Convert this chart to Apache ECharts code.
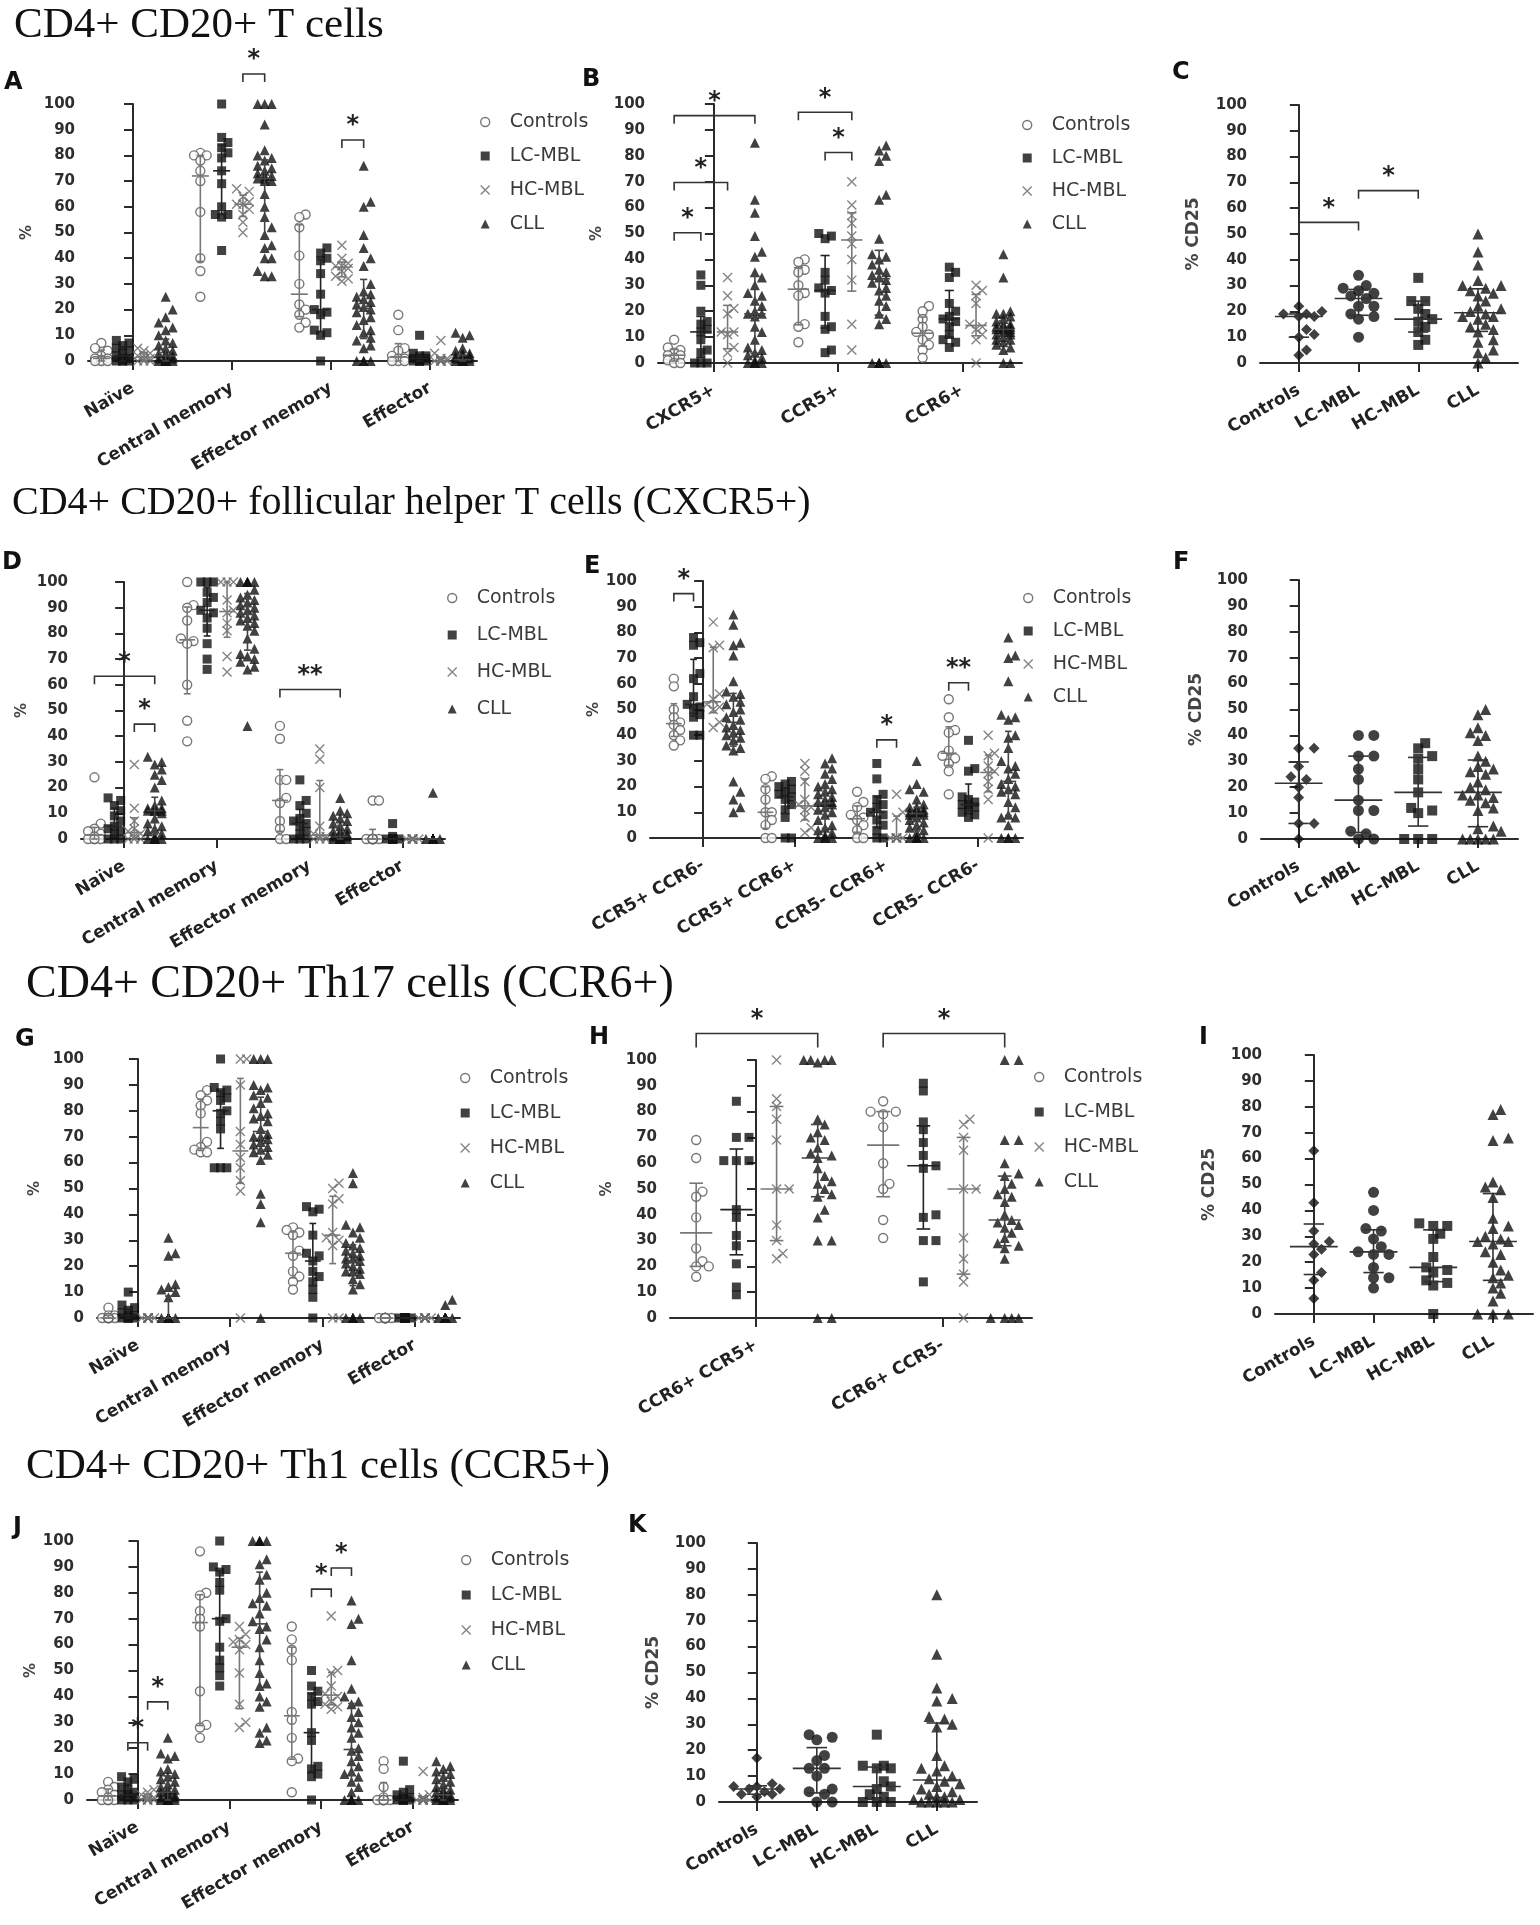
<!DOCTYPE html>
<html>
<head>
<meta charset="utf-8">
<title>CD4+ CD20+ T cells</title>
<script src="https://cdn.jsdelivr.net/npm/echarts@6/dist/echarts.min.js"></script>
<style>
html, body { margin: 0; padding: 0; background: #fff; }
#chart { width: 1540px; height: 1925px; }
</style>
</head>
<body>
<div id="chart"></div>
<script>
'use strict';

// groups and subset names
var groups = ['Controls', 'LC-MBL', 'HC-MBL', 'CLL'];
var memSubsets = ['Naïve', 'Central memory', 'Effector memory', 'Effector'];
var chemoSubsets = ['CXCR5+', 'CCR5+', 'CCR6+'];
var tfhSubsets = ['CCR5+ CCR6-', 'CCR5+ CCR6+', 'CCR5- CCR6+', 'CCR5- CCR6-'];
var th17Subsets = ['CCR6+ CCR5+', 'CCR6+ CCR5-'];
var yTicks = [0, 10, 20, 30, 40, 50, 60, 70, 80, 90, 100];

// every subset array holds one list per group: [Controls, LC-MBL, HC-MBL, CLL]
// A - CD4+ CD20+ T cells
var aNaive = [
    [7, 5, 4, 2, 1, 1, 0.5, 0, 0, 0],
    [8, 7, 6, 5, 4, 3, 2, 1, 1, 0, 0, 0, 0],
    [5, 4, 3, 2, 2, 1, 1, 0, 0, 0],
    [25, 20, 17, 15, 13, 12, 10, 8, 7, 6, 5, 4, 3, 3, 2, 2, 1, 1, 1, 0, 0, 0, 0, 0, 0, 0, 0, 0, 0, 0]
];
var aCentral = [
    [81, 80, 80, 78, 74, 70, 58, 40, 35, 25],
    [100, 87, 85, 83, 81, 79, 74, 69, 60, 57, 57, 56, 43],
    [67, 66, 64, 62, 61, 61, 59, 57, 54, 50],
    [100, 100, 100, 92, 82, 80, 79, 78, 76, 75, 74, 73, 72, 72, 71, 71, 70, 70, 65, 60, 56, 52, 49, 45, 44, 40, 40, 35, 33, 33]
];
var aEffMem = [
    [57, 56, 52, 41, 30, 22, 20, 18, 15, 13],
    [44, 42, 40, 39, 34, 26, 20, 19, 18, 12, 11, 10, 0],
    [45, 40, 38, 37, 37, 36, 35, 33, 32, 31],
    [76, 62, 60, 49, 44, 40, 37, 30, 27, 26, 25, 24, 23, 22, 21, 20, 19, 17, 16, 14, 12, 11, 9, 8, 6, 5, 0, 0, 0, 0]
];
var aEff = [
    [18, 12, 5, 4, 2, 1, 1, 0, 0, 0],
    [10, 3, 2, 2, 1, 1, 1, 0, 0, 0, 0, 0, 0],
    [8, 3, 1, 1, 0, 0, 0, 0, 0, 0],
    [11, 10, 9, 5, 4, 3, 3, 2, 2, 2, 1, 1, 1, 1, 1, 0, 0, 0, 0, 0, 0, 0, 0, 0, 0, 0, 0, 0, 0, 0]
];
// B - chemokine receptors
var bCxcr5 = [
    [9, 6, 5, 4, 3, 3, 2, 1, 0, 0],
    [34, 30, 20, 16, 15, 13, 12, 9, 5, 4, 0, 0, 0],
    [33, 26, 21, 19, 12, 12, 11, 6, 4, 0],
    [85, 63, 58, 49, 43, 41, 35, 33, 30, 27, 26, 24, 22, 20, 19, 19, 18, 14, 12, 9, 6, 5, 4, 3, 2, 1, 0, 0, 0, 0]
];
var bCcr5 = [
    [40, 39, 36, 35, 30, 27, 26, 15, 14, 8],
    [50, 49, 48, 35, 32, 29, 28, 27, 18, 14, 13, 5, 4],
    [70, 61, 57, 54, 49, 46, 40, 32, 15, 5],
    [84, 82, 80, 78, 65, 63, 48, 42, 41, 40, 38, 36, 35, 34, 33, 32, 31, 29, 28, 26, 24, 22, 19, 17, 15, 0, 0, 0, 0, 0]
];
var bCcr6 = [
    [22, 20, 17, 14, 12, 11, 9, 7, 5, 2],
    [37, 35, 33, 23, 20, 18, 17, 16, 14, 11, 9, 8, 6],
    [30, 28, 26, 23, 15, 14, 13, 11, 9, 0],
    [42, 33, 20, 19, 19, 18, 17, 16, 15, 15, 14, 14, 14, 13, 13, 13, 13, 12, 12, 11, 11, 10, 9, 9, 8, 7, 6, 5, 0, 0]
];
// C - % CD25
var cCd25 = [
    [22, 20, 19, 19, 18, 18, 13, 11, 10, 5, 3],
    [34, 30, 29, 28, 27, 26, 25, 22, 22, 19, 18, 17, 10],
    [33, 24, 24, 21, 19, 17, 16, 14, 12, 9, 7],
    [50, 43, 38, 32, 30, 30, 29, 28, 27, 26, 24, 22, 21, 20, 19, 18, 18, 17, 15, 14, 13, 12, 9, 8, 5, 4, 2, 0]
];
// D - follicular helper T cells
var dNaive = [
    [24, 6, 4, 3, 2, 1, 0, 0, 0, 0],
    [16, 15, 13, 11, 9, 7, 5, 4, 3, 2, 0, 0, 0],
    [29, 12, 7, 4, 3, 2, 1, 0, 0, 0],
    [32, 30, 29, 27, 25, 23, 20, 15, 13, 12, 12, 12, 11, 11, 11, 11, 10, 8, 6, 5, 4, 3, 2, 1, 0, 0, 0, 0, 0, 0]
];
var dCentral = [
    [100, 91, 90, 85, 78, 77, 76, 60, 46, 38],
    [100, 100, 100, 96, 94, 92, 89, 88, 86, 82, 76, 70, 66],
    [100, 100, 100, 93, 89, 88, 84, 81, 71, 65],
    [100, 100, 100, 100, 100, 100, 97, 95, 94, 93, 92, 91, 90, 89, 88, 87, 86, 85, 84, 83, 81, 78, 74, 72, 71, 70, 69, 67, 66, 44]
];
var dEffMem = [
    [44, 39, 23, 23, 16, 14, 7, 4, 0, 0],
    [23, 15, 13, 10, 8, 7, 6, 5, 3, 2, 0, 0, 0],
    [35, 31, 20, 5, 2, 1, 1, 0, 0, 0],
    [16, 11, 10, 9, 8, 7, 6, 5, 4, 3, 3, 2, 2, 1, 1, 1, 0, 0, 0, 0, 0, 0, 0, 0, 0, 0, 0, 0, 0, 0]
];
var dEff = [
    [15, 15, 0, 0, 0, 0, 0, 0, 0, 0],
    [6, 1, 0, 0, 0, 0, 0, 0, 0, 0, 0, 0, 0],
    [0, 0, 0, 0, 0, 0, 0, 0, 0, 0],
    [18, 0, 0, 0, 0, 0, 0, 0, 0, 0, 0, 0, 0, 0, 0, 0, 0, 0, 0, 0, 0, 0, 0, 0, 0, 0, 0, 0, 0, 0]
];
// E - CCR5 / CCR6 within CXCR5+
var eR5pR6m = [
    [62, 59, 50, 47, 45, 44, 42, 40, 38, 36],
    [78, 76, 75, 64, 62, 55, 52, 51, 50, 48, 47, 40, 40],
    [84, 75, 74, 56, 54, 52, 51, 50, 45, 43],
    [87, 83, 76, 75, 71, 61, 57, 56, 55, 53, 52, 50, 49, 47, 46, 44, 43, 42, 41, 40, 39, 38, 36, 35, 34, 22, 18, 15, 12, 10]
];
var eR5pR6p = [
    [24, 23, 19, 15, 10, 10, 7, 5, 0, 0],
    [22, 21, 20, 19, 18, 17, 16, 15, 13, 11, 8, 0, 0],
    [29, 26, 22, 15, 13, 12, 11, 8, 4, 2],
    [31, 29, 27, 25, 23, 21, 20, 19, 18, 17, 16, 15, 14, 14, 14, 13, 12, 11, 10, 9, 7, 5, 4, 3, 2, 1, 0, 0, 0, 0]
];
var eR5mR6p = [
    [18, 14, 12, 9, 8, 7, 5, 3, 0, 0],
    [29, 23, 17, 15, 13, 12, 10, 9, 7, 5, 3, 0, 0],
    [17, 10, 8, 0, 0, 0, 0, 0, 0, 0],
    [30, 21, 19, 18, 15, 13, 12, 12, 11, 11, 10, 10, 10, 10, 10, 9, 9, 8, 7, 6, 5, 4, 3, 2, 0, 0, 0, 0, 0, 0]
];
var eR5mR6m = [
    [54, 47, 42, 41, 34, 32, 31, 29, 26, 17],
    [38, 27, 26, 16, 15, 14, 13, 13, 12, 11, 10, 9, 8],
    [40, 33, 32, 28, 26, 25, 22, 19, 15, 0],
    [78, 71, 70, 61, 48, 47, 46, 40, 39, 35, 30, 28, 27, 25, 23, 21, 20, 19, 18, 17, 14, 12, 9, 8, 8, 5, 0, 0, 0, 0]
];
// F - % CD25
var fCd25 = [
    [35, 35, 28, 24, 23, 20, 16, 6, 6, 0],
    [40, 40, 32, 32, 27, 23, 15, 11, 11, 3, 2, 0, 0],
    [37, 35, 32, 31, 27, 23, 18, 12, 11, 10, 0, 0, 0],
    [50, 48, 43, 41, 40, 38, 32, 30, 28, 27, 26, 25, 22, 20, 19, 17, 17, 16, 15, 14, 12, 11, 5, 4, 3, 0, 0, 0, 0, 0]
];
// G - Th17 cells
var gNaive = [
    [4, 1, 1, 0, 0, 0, 0, 0, 0, 0],
    [10, 5, 4, 3, 2, 1, 1, 0, 0, 0, 0, 0, 0],
    [0, 0, 0, 0, 0, 0, 0, 0, 0, 0],
    [31, 25, 24, 13, 12, 11, 10, 8, 0, 0, 0, 0, 0, 0, 0, 0, 0, 0, 0, 0, 0, 0, 0, 0, 0, 0, 0, 0, 0, 0]
];
var gCentral = [
    [88, 86, 84, 82, 79, 68, 66, 65, 64, 64],
    [100, 89, 88, 87, 85, 84, 80, 79, 76, 73, 58, 58, 58],
    [100, 100, 90, 72, 67, 62, 58, 53, 49, 0],
    [100, 100, 100, 90, 89, 88, 86, 85, 83, 81, 79, 78, 77, 76, 73, 71, 70, 70, 69, 68, 67, 66, 65, 64, 63, 61, 48, 44, 37, 0]
];
var gEffMem = [
    [35, 34, 33, 32, 26, 24, 18, 16, 14, 11],
    [43, 42, 41, 32, 25, 24, 22, 18, 16, 14, 11, 8, 0],
    [52, 50, 46, 44, 33, 31, 30, 28, 0, 0],
    [56, 52, 36, 35, 33, 31, 29, 28, 27, 26, 25, 24, 23, 23, 22, 21, 20, 19, 18, 18, 17, 15, 13, 11, 0, 0, 0, 0, 0, 0]
];
var gEff = [
    [0, 0, 0, 0, 0, 0, 0, 0, 0, 0],
    [0, 0, 0, 0, 0, 0, 0, 0, 0, 0, 0, 0, 0],
    [0, 0, 0, 0, 0, 0, 0, 0, 0, 0],
    [7, 5, 0, 0, 0, 0, 0, 0, 0, 0, 0, 0, 0, 0, 0, 0, 0, 0, 0, 0, 0, 0, 0, 0, 0, 0, 0, 0, 0, 0]
];
// H - CCR5 within CCR6+
var hR6pR5p = [
    [69, 62, 49, 47, 39, 27, 22, 20, 20, 16],
    [84, 70, 70, 61, 61, 61, 42, 39, 32, 28, 21, 12, 9],
    [100, 85, 82, 77, 69, 50, 50, 36, 30, 25, 23],
    [100, 100, 100, 100, 99, 77, 75, 72, 70, 69, 66, 64, 63, 62, 58, 55, 53, 52, 50, 48, 47, 42, 39, 30, 30, 0, 0]
];
var hR6pR5m = [
    [84, 80, 80, 79, 74, 60, 52, 50, 38, 31],
    [91, 88, 76, 73, 68, 63, 59, 58, 40, 39, 30, 30, 14],
    [77, 75, 70, 65, 50, 50, 31, 23, 17, 14, 0],
    [100, 100, 69, 69, 60, 56, 55, 52, 50, 48, 47, 45, 40, 38, 37, 36, 35, 33, 31, 29, 28, 27, 23, 0, 0, 0, 0]
];
// I - % CD25
var iCd25 = [
    [63, 43, 32, 28, 27, 25, 23, 16, 13, 6],
    [47, 40, 33, 32, 29, 26, 24, 23, 23, 18, 14, 14, 10],
    [35, 34, 34, 31, 29, 22, 18, 17, 16, 13, 12, 11, 0],
    [79, 77, 68, 67, 51, 49, 48, 45, 37, 34, 33, 30, 29, 28, 28, 27, 24, 23, 20, 17, 15, 14, 12, 10, 8, 5, 0, 0, 0]
];
// J - Th1 cells
var jNaive = [
    [7, 5, 4, 3, 2, 1, 0, 0, 0, 0],
    [9, 8, 7, 5, 4, 3, 2, 2, 1, 1, 0, 0, 0],
    [4, 3, 2, 1, 1, 0, 0, 0, 0, 0],
    [24, 18, 17, 16, 12, 11, 10, 9, 8, 7, 6, 5, 4, 4, 3, 3, 2, 2, 1, 1, 1, 0, 0, 0, 0, 0, 0, 0, 0, 0]
];
var jCentral = [
    [96, 80, 79, 73, 70, 67, 42, 29, 28, 24],
    [100, 90, 89, 88, 84, 81, 70, 69, 59, 54, 51, 48, 44],
    [67, 64, 62, 61, 60, 58, 49, 37, 30, 28],
    [100, 100, 100, 100, 100, 93, 91, 87, 85, 80, 78, 76, 75, 72, 69, 67, 66, 62, 59, 54, 49, 45, 44, 40, 38, 36, 28, 26, 23, 22]
];
var jEffMem = [
    [67, 62, 58, 54, 34, 31, 24, 16, 15, 3],
    [50, 44, 42, 40, 38, 37, 26, 23, 13, 12, 10, 9, 0],
    [71, 50, 49, 44, 41, 40, 38, 37, 36, 35],
    [77, 70, 68, 54, 43, 40, 38, 37, 34, 32, 30, 28, 26, 24, 20, 19, 17, 15, 13, 11, 10, 9, 7, 5, 3, 0, 0, 0, 0, 0]
];
var jEff = [
    [15, 12, 5, 1, 0, 0, 0, 0, 0, 0],
    [15, 4, 3, 2, 1, 1, 0, 0, 0, 0, 0, 0, 0],
    [11, 2, 1, 0, 0, 0, 0, 0, 0, 0],
    [15, 13, 12, 11, 10, 9, 8, 7, 6, 5, 4, 4, 3, 3, 2, 2, 1, 1, 1, 0, 0, 0, 0, 0, 0, 0, 0, 0, 0, 0]
];
// K - % CD25
var kCd25 = [
    [17, 7, 6, 6, 5, 5, 4, 3, 3, 2],
    [26, 25, 24, 18, 16, 13, 13, 10, 5, 4, 3, 0, 0],
    [26, 14, 14, 13, 13, 8, 6, 5, 3, 2, 0, 0, 0],
    [80, 57, 44, 40, 39, 33, 32, 30, 29, 18, 14, 13, 12, 10, 9, 8, 7, 6, 5, 4, 3, 2, 2, 1, 1, 0, 0, 0, 0, 0]
];

// significance brackets: [subset, from group, to group, level, label]
var aBrackets = [[1, 2, 3, 111.7, '*'], [2, 2, 3, 86, '*']];
var bBrackets = [[0, 0, 1, 50.3, '*'], [0, 0, 2, 69.7, '*'], [0, 0, 3, 95.5, '*'], [1, 0, 2, 96.8, '*'], [1, 1, 2, 81.3, '*']];
var cBrackets = [[0, 0, 1, 54.5, '*'], [0, 1, 2, 66.8, '*']];
var dBrackets = [[0, 0, 3, 63.3, '*'], [0, 2, 3, 44.7, '*'], [2, 0, 3, 58.2, '**']];
var eBrackets = [[0, 0, 1, 95.1, '*'], [2, 1, 2, 38.2, '*'], [3, 0, 1, 60.4, '**']];
var hBrackets = [[0, 0, 3, 110.3, '*'], [1, 0, 3, 110.3, '*']];
var jBrackets = [[0, 1, 2, 22.1, '*'], [0, 2, 3, 37.9, '*'], [2, 1, 2, 81.4, '*'], [2, 2, 3, 89.6, '*']];

// ---- styles and layout ----
var SANS = 'DejaVu Sans';
var SERIF = 'Liberation Serif';
var AXIS = '#2b2b2b';
var SUB_OFFSET = [-0.32, -0.105, 0.11, 0.33];
var SUB_STEP = 0.215;
var CROSS = 'path://M1,1L9,9M9,1L1,9';

// symbols of the grouped panels and of the CD25 panels
var groupMarks = [
    { symbol: 'circle', size: 9, style: { color: '#fff', borderColor: '#555', borderWidth: 1.4 } },
    { symbol: 'rect', size: 9, style: { color: '#111' } },
    { symbol: CROSS, size: 9, style: { color: '#666', borderColor: '#666', borderWidth: 1.4 } },
    { symbol: 'triangle', size: 10, style: { color: '#111' } }
];
var cd25Marks = [
    { symbol: 'diamond', size: 11, style: { color: '#111' } },
    { symbol: 'circle', size: 11, style: { color: '#111' } },
    { symbol: 'rect', size: 10, style: { color: '#111' } },
    { symbol: 'triangle', size: 11, style: { color: '#111' } }
];
var groupBarColors = ['#777', '#222', '#777', '#444'];

var panels = [
    { key: 'A', kind: 'group', cats: memSubsets, cols: [aNaive, aCentral, aEffMem, aEff], brackets: aBrackets,
        grid: { left: 88, top: 104, width: 389, height: 257 }, xMin: -0.455, xMax: 3.475, nameGap: 53,
        legend: { left: 480, top: 112, gap: 14 }, letter: [4, 71] },
    { key: 'B', kind: 'group', cats: chemoSubsets, cols: [bCxcr5, bCcr5, bCcr6], brackets: bBrackets,
        grid: { left: 658, top: 104, width: 364, height: 259 }, xMin: -0.45, xMax: 2.48, nameGap: 53,
        legend: { left: 1022, top: 115, gap: 13 }, letter: [582, 68] },
    { key: 'C', kind: 'cd25', cats: groups, cols: cCd25, brackets: cBrackets,
        grid: { left: 1260, top: 105, width: 258, height: 258 }, xMin: -0.65, xMax: 3.67, nameGap: 58, letter: [1172, 61] },
    { key: 'D', kind: 'group', cats: memSubsets, cols: [dNaive, dCentral, dEffMem, dEff], brackets: dBrackets,
        grid: { left: 81, top: 582, width: 364, height: 257 }, xMin: -0.465, xMax: 3.46, nameGap: 51,
        legend: { left: 447, top: 588, gap: 17 }, letter: [2, 551] },
    { key: 'E', kind: 'group', cats: tfhSubsets, cols: [eR5pR6m, eR5pR6p, eR5mR6p, eR5mR6m], brackets: eBrackets,
        grid: { left: 650, top: 581, width: 373, height: 257 }, xMin: -0.58, xMax: 3.49, nameGap: 42,
        legend: { left: 1023, top: 588, gap: 13 }, letter: [584, 555] },
    { key: 'F', kind: 'cd25', cats: groups, cols: fCd25, brackets: [],
        grid: { left: 1261, top: 580, width: 257, height: 259 }, xMin: -0.63, xMax: 3.67, nameGap: 56, letter: [1173, 551] },
    { key: 'G', kind: 'group', cats: memSubsets, cols: [gNaive, gCentral, gEffMem, gEff], brackets: [],
        grid: { left: 97, top: 1059, width: 363, height: 259 }, xMin: -0.444, xMax: 3.49, nameGap: 54,
        legend: { left: 460, top: 1068, gap: 15 }, letter: [15, 1028] },
    { key: 'H', kind: 'group', cats: th17Subsets, cols: [hR6pR5p, hR6pR5m], brackets: hBrackets, leg: 14,
        grid: { left: 670, top: 1060, width: 362, height: 258 }, xMin: -0.46, xMax: 1.476, nameGap: 55,
        legend: { left: 1034, top: 1067, gap: 15 }, letter: [589, 1026] },
    { key: 'I', kind: 'cd25', cats: groups, cols: iCd25, brackets: [],
        grid: { left: 1275, top: 1055, width: 258, height: 259 }, xMin: -0.65, xMax: 3.67, nameGap: 57, letter: [1199, 1026] },
    { key: 'J', kind: 'group', cats: memSubsets, cols: [jNaive, jCentral, jEffMem, jEff], brackets: jBrackets,
        grid: { left: 87, top: 1541, width: 371, height: 259 }, xMin: -0.55, xMax: 3.49, nameGap: 44,
        legend: { left: 461, top: 1550, gap: 15 }, letter: [13, 1516] },
    { key: 'K', kind: 'cd25', cats: groups, cols: kCd25, brackets: [],
        grid: { left: 719, top: 1543, width: 258, height: 259 }, xMin: -0.63, xMax: 3.67, nameGap: 57, letter: [628, 1514] }
];

var sectionTitles = [
    { text: 'CD4+ CD20+ T cells', left: 14, top: 4, size: 43 },
    { text: 'CD4+ CD20+ follicular helper T cells (CXCR5+)', left: 12, top: 483, size: 40 },
    { text: 'CD4+ CD20+ Th17 cells (CCR6+)', left: 26, top: 962, size: 46 },
    { text: 'CD4+ CD20+ Th1 cells (CCR5+)', left: 26, top: 1445, size: 43 }
];

/**
 * GraphPad style percentile, position p*(n+1)
 */
function quantile(sorted, p) {
    var n = sorted.length;
    var pos = p * (n + 1);
    if (pos <= 1) return sorted[0];
    if (pos >= n) return sorted[n - 1];
    var lo = Math.floor(pos);
    return sorted[lo - 1] + (pos - lo) * (sorted[lo] - sorted[lo - 1]);
}

/**
 * Side-by-side offsets (px) for markers that sit at the same height
 */
function swarm(vals, pxY, size, maxDx) {
    var order = vals.map(function (v, i) { return i; }).sort(function (a, b) { return vals[a] - vals[b]; });
    var placed = [];
    var out = [];
    order.forEach(function (i) {
        var y = vals[i] * pxY;
        var best = 0, bestGap = -1;
        for (var k = 0; k < 19; k++) {
            var dx = (k % 2 ? 1 : -1) * Math.ceil(k / 2) * size * 0.7;
            if (Math.abs(dx) > maxDx) continue;
            var gap = Infinity;
            placed.forEach(function (q) { gap = Math.min(gap, Math.hypot(q[0] - dx, q[1] - y)); });
            if (gap >= size * 0.8) { best = dx; bestGap = gap; break; }
            if (gap > bestGap) { best = dx; bestGap = gap; }
        }
        placed.push([best, y]);
        out[i] = best;
    });
    return out;
}

// the columns of a panel: x position, group, values
function columnsOf(p) {
    var list = [];
    if (p.kind === 'group') {
        p.cols.forEach(function (sub, c) {
            sub.forEach(function (vals, g) {
                list.push({ x: c + SUB_OFFSET[g], g: g, vals: vals });
            });
        });
    } else {
        p.cols.forEach(function (vals, g) {
            list.push({ x: g, g: g, vals: vals });
        });
    }
    return list;
}

function bracketX(p, c, g) {
    return p.kind === 'group' ? c + SUB_OFFSET[g] : g;
}

var grids = [], xAxes = [], yAxes = [], series = [], legends = [], titles = [];

sectionTitles.forEach(function (t) {
    titles.push({
        text: t.text, left: t.left, top: t.top, padding: 0,
        textStyle: { fontFamily: SERIF, fontSize: t.size, fontWeight: 'normal', color: '#111', lineHeight: t.size }
    });
});

panels.forEach(function (p, pi) {
    var isGroup = p.kind === 'group';
    var marks = isGroup ? groupMarks : cd25Marks;
    var pxX = p.grid.width / (p.xMax - p.xMin);
    var pxY = p.grid.height / (yTicks[yTicks.length - 1] - yTicks[0]);
    var step = isGroup ? SUB_STEP * pxX : pxX;
    var ticks = p.cats.map(function (c, i) { return i; });

    titles.push({
        text: p.key, left: p.letter[0], top: p.letter[1], padding: 0,
        textStyle: { fontFamily: SANS, fontSize: 24, fontWeight: 'bold', color: '#111', lineHeight: 24 }
    });

    grids.push({ left: p.grid.left, top: p.grid.top, width: p.grid.width, height: p.grid.height, containLabel: false });

    xAxes.push({
        gridIndex: pi, type: 'value', min: p.xMin, max: p.xMax,
        axisLine: { show: true, onZero: false, lineStyle: { color: AXIS, width: 2 } },
        axisTick: { show: true, length: 9, customValues: ticks, lineStyle: { color: AXIS, width: 2 } },
        axisLabel: {
            customValues: ticks, rotate: 30, margin: 26,
            formatter: function (v) { return p.cats[Math.round(v)]; },
            fontFamily: SANS, fontWeight: 'bold', fontSize: 17, color: '#222'
        },
        splitLine: { show: false }
    });

    yAxes.push({
        gridIndex: pi, type: 'value', min: yTicks[0], max: yTicks[yTicks.length - 1], interval: yTicks[1] - yTicks[0],
        name: isGroup ? '%' : '% CD25', nameLocation: 'middle', nameRotate: 90, nameGap: p.nameGap,
        nameTextStyle: { fontFamily: SANS, fontWeight: 'bold', fontSize: isGroup ? 15 : 17, color: '#444' },
        axisLine: { show: true, lineStyle: { color: AXIS, width: 2 } },
        axisTick: { show: true, length: 9, lineStyle: { color: AXIS, width: 2 } },
        axisLabel: { margin: 13, fontFamily: SANS, fontWeight: 'bold', fontSize: 15, color: '#2e2e2e' },
        splitLine: { show: false }
    });

    var cols = columnsOf(p);
    var pointsByGroup = [[], [], [], []];
    var bars = [];
    cols.forEach(function (col) {
        var offs = swarm(col.vals, pxY, marks[col.g].size, 0.42 * step);
        col.vals.forEach(function (v, i) {
            pointsByGroup[col.g].push([col.x + offs[i] / pxX, v]);
        });
        var sorted = col.vals.slice().sort(function (a, b) { return a - b; });
        bars.push([col.x, quantile(sorted, 0.5), quantile(sorted, 0.25), quantile(sorted, 0.75), col.g]);
    });

    pointsByGroup.forEach(function (pts, g) {
        series.push({
            type: 'scatter', name: isGroup ? groups[g] : groups[g] + ' CD25',
            xAxisIndex: pi, yAxisIndex: pi,
            symbol: marks[g].symbol, symbolSize: marks[g].size,
            itemStyle: marks[g].style, data: pts, z: 2, silent: true
        });
    });

    var halfMed = 0.4 * step, halfQ = 0.17 * step;
    series.push({
        type: 'custom', xAxisIndex: pi, yAxisIndex: pi, data: bars, z: 3, silent: true, clip: false,
        renderItem: function (params, api) {
            var g = api.value(4);
            var m = api.coord([api.value(0), api.value(1)]);
            var q1 = api.coord([api.value(0), api.value(2)]);
            var q3 = api.coord([api.value(0), api.value(3)]);
            var style = { stroke: isGroup ? groupBarColors[g] : '#333', lineWidth: 1.6 };
            return {
                type: 'group', children: [
                    { type: 'line', shape: { x1: m[0], y1: q1[1], x2: m[0], y2: q3[1] }, style: style },
                    { type: 'line', shape: { x1: m[0] - halfMed, y1: m[1], x2: m[0] + halfMed, y2: m[1] }, style: style },
                    { type: 'line', shape: { x1: m[0] - halfQ, y1: q1[1], x2: m[0] + halfQ, y2: q1[1] }, style: style },
                    { type: 'line', shape: { x1: m[0] - halfQ, y1: q3[1], x2: m[0] + halfQ, y2: q3[1] }, style: style }
                ]
            };
        }
    });

    if (p.brackets.length) {
        var leg = p.leg || 8;
        series.push({
            type: 'custom', xAxisIndex: pi, yAxisIndex: pi, z: 4, silent: true, clip: false,
            data: p.brackets.map(function (b) {
                return [bracketX(p, b[0], b[1]), bracketX(p, b[0], b[2]), b[3]];
            }),
            renderItem: function (params, api) {
                var label = p.brackets[params.dataIndex][4];
                var a = api.coord([api.value(0), api.value(2)]);
                var c = api.coord([api.value(1), api.value(2)]);
                return {
                    type: 'group', children: [
                        {
                            type: 'polyline',
                            shape: { points: [[a[0], a[1] + leg], [a[0], a[1]], [c[0], c[1]], [c[0], c[1] + leg]] },
                            style: { stroke: '#333', lineWidth: 1.6, fill: null }
                        },
                        {
                            type: 'text',
                            style: {
                                text: label, x: (a[0] + c[0]) / 2, y: a[1] - 14, align: 'center', verticalAlign: 'middle',
                                fontFamily: SANS, fontWeight: 'bold', fontSize: 24, fill: '#222'
                            }
                        }
                    ]
                };
            }
        });
    }

    if (p.legend) {
        legends.push({
            left: p.legend.left, top: p.legend.top, orient: 'vertical', padding: 0,
            itemWidth: 9, itemHeight: 9, itemGap: p.legend.gap, selectedMode: false,
            formatter: function (name) { return '{gap| }' + name; },
            textStyle: {
                fontFamily: SANS, fontSize: 19, color: '#3a3a3a', lineHeight: 20,
                rich: { gap: { width: 15, fontSize: 19 } }
            },
            data: groups.map(function (name, g) {
                return { name: name, icon: groupMarks[g].symbol, itemStyle: groupMarks[g].style };
            })
        });
    }
});

var chart = echarts.init(document.getElementById('chart'), null, { renderer: 'canvas' });
chart.setOption({
    animation: false,
    backgroundColor: '#fff',
    title: titles,
    legend: legends,
    grid: grids,
    xAxis: xAxes,
    yAxis: yAxes,
    series: series
});
</script>
</body>
</html>
